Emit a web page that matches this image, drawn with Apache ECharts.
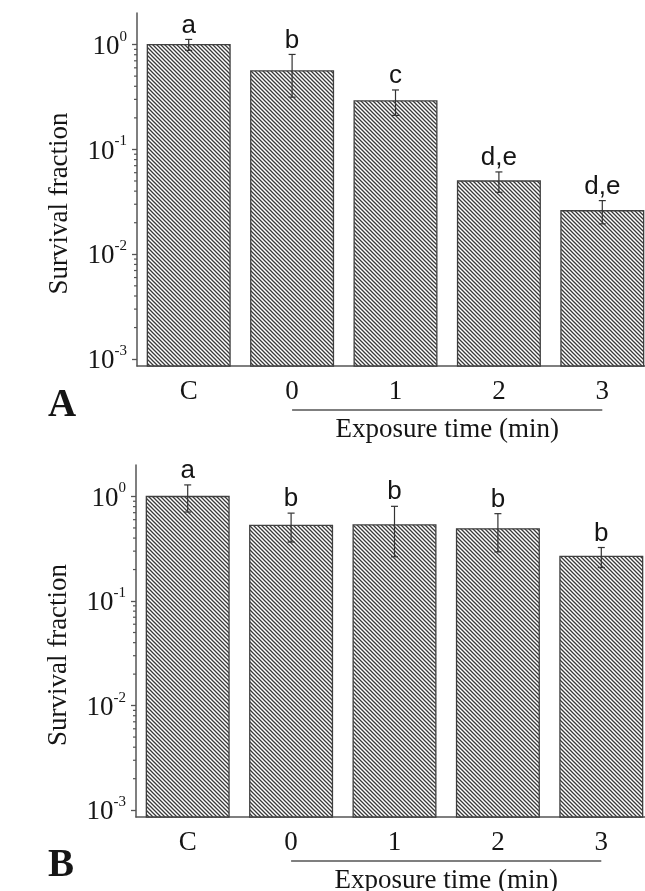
<!DOCTYPE html>
<html><head><meta charset="utf-8">
<script src="https://cdn.jsdelivr.net/npm/echarts@6/dist/echarts.min.js"></script>
<style>html,body{margin:0;padding:0;background:#fff;overflow:hidden;width:645px;height:891px}#c{width:662px;height:891px}</style>
</head><body><div id="c"></div>
<script>
// ---- data ----
const categories = ['C', '0', '1', '2', '3'];
const meanA = [1.0, 0.56, 0.29, 0.050, 0.026];
const errA = [0.12, 0.245, 0.079, 0.011, 0.0065];
const letterA = ['a', 'b', 'c', 'd,e', 'd,e'];
const meanB = [1.0, 0.53, 0.535, 0.49, 0.267];
const errB = [0.29, 0.163, 0.27, 0.195, 0.058];
const letterB = ['a', 'b', 'b', 'b', 'b'];
const yMin = 0.00086, yMax = 2;
const minorTicks = [0.002,0.003,0.004,0.005,0.006,0.007,0.008,0.009,
                    0.02,0.03,0.04,0.05,0.06,0.07,0.08,0.09,
                    0.2,0.3,0.4,0.5,0.6,0.7,0.8,0.9];
const bracketRange = [1, 4]; // categories '0' .. '3'
const xTitle = 'Exposure time (min)';
const yTitle = 'Survival fraction';
const panelLabels = ['A', 'B'];

// ---- styling ----
const SERIF = '"Liberation Serif", "Times New Roman", serif';
const SANS = '"Liberation Sans", Arial, sans-serif';
const AX = '#555';
const TXT = '#151515';

function makeHatch() {
  const c = document.createElement('canvas');
  c.width = 4; c.height = 4;
  const g = c.getContext('2d');
  g.fillStyle = '#fff'; g.fillRect(0, 0, 4, 4);
  g.strokeStyle = '#3a3a3a'; g.lineWidth = 1.3;
  g.beginPath();
  g.moveTo(-1, -1); g.lineTo(5, 5);
  g.moveTo(-1, 3); g.lineTo(1, 5);
  g.moveTo(3, -1); g.lineTo(5, 1);
  g.stroke();
  return c;
}
const hatch = makeHatch();

function barRender(letters) {
  return function (params, api) {
    const i = api.value(0), v = api.value(1), e = api.value(2);
    const top = api.coord([i, v]);
    const base = api.coord([i, yMin]);
    const bw = api.size([1, 0])[0] * 0.8;
    const cx = top[0];
    const eTop = api.coord([i, v + e])[1];
    const eBot = api.coord([i, v - e])[1];
    const es = { stroke: '#333', lineWidth: 1.2 };
    return {
      type: 'group', children: [
        { type: 'rect', shape: { x: cx - bw / 2, y: top[1], width: bw, height: base[1] - top[1] },
          style: { fill: { image: hatch, repeat: 'repeat' }, stroke: '#404040', lineWidth: 1.3 } },
        { type: 'line', shape: { x1: cx, y1: eTop, x2: cx, y2: eBot }, style: es },
        { type: 'line', shape: { x1: cx - 3.5, y1: eTop, x2: cx + 3.5, y2: eTop }, style: es },
        { type: 'line', shape: { x1: cx - 3.5, y1: eBot, x2: cx + 3.5, y2: eBot }, style: es },
        { type: 'text', style: { text: letters[params.dataIndex], x: cx, y: eTop - 1,
          textAlign: 'center', textVerticalAlign: 'bottom', font: '26px ' + SANS, fill: TXT } }
      ]
    };
  };
}

function minorRender(params, api) {
  const y = api.coord([0, api.value(1)])[1];
  const x = params.coordSys.x;
  return { type: 'line', shape: { x1: x - 3, y1: y, x2: x, y2: y }, style: { stroke: AX, lineWidth: 1.2 } };
}

function bracketRender(params, api) {
  const a = api.coord([api.value(0), yMin]);
  const b = api.coord([api.value(1), yMin]);
  const y = params.coordSys.y + params.coordSys.height + 44;
  return {
    type: 'group', children: [
      { type: 'line', shape: { x1: a[0], y1: y, x2: b[0], y2: y }, style: { stroke: '#555', lineWidth: 1.5 } },
      { type: 'text', style: { text: xTitle, x: (a[0] + b[0]) / 2, y: y + 6, textAlign: 'center',
        textVerticalAlign: 'top', font: '27px ' + SERIF, fill: TXT } }
    ]
  };
}

function xAxisFor(idx) {
  return {
    type: 'category', gridIndex: idx, data: categories,
    axisLine: { lineStyle: { color: AX, width: 1.5 } },
    axisTick: { alignWithLabel: true, length: 6, lineStyle: { color: AX, width: 1.5 } },
    axisLabel: { fontFamily: SERIF, fontSize: 27, color: TXT, margin: 12 }
  };
}
function yAxisFor(idx) {
  return {
    type: 'log', gridIndex: idx, min: yMin, max: yMax, logBase: 10,
    axisLine: { show: true, lineStyle: { color: AX, width: 1.5 } },
    axisTick: { show: true, length: 5, lineStyle: { color: AX, width: 1.3 } },
    splitLine: { show: false },
    axisLabel: {
      showMinLabel: false, showMaxLabel: false, margin: 10,
      formatter: function (v) { return '{b|10}{s|' + Math.round(Math.log10(v)) + '}'; },
      rich: {
        b: { fontFamily: SERIF, fontSize: 27, color: TXT, padding: [4, 0, 0, 0] },
        s: { fontFamily: SERIF, fontSize: 15, color: TXT, verticalAlign: 'top' }
      }
    },
    name: yTitle, nameLocation: 'middle', nameGap: 64,
    nameTextStyle: { fontFamily: SERIF, fontSize: 27, color: TXT, padding: [0, 28, 0, 0] }
  };
}

const chart = echarts.init(document.getElementById('c'), null, { renderer: 'canvas' });
chart.setOption({
  animation: false,
  backgroundColor: '#fff',
  grid: [
    { left: 137, top: 13, width: 517, height: 353 },
    { left: 136, top: 465, width: 517, height: 352 }
  ],
  xAxis: [xAxisFor(0), xAxisFor(1)],
  yAxis: [yAxisFor(0), yAxisFor(1)],
  graphic: [
    { type: 'text', left: 48, top: 386, style: { text: panelLabels[0], font: 'bold 39px ' + SERIF, fill: TXT } },
    { type: 'text', left: 48, top: 846, style: { text: panelLabels[1], font: 'bold 39px ' + SERIF, fill: TXT } }
  ],
  series: [
    { type: 'custom', xAxisIndex: 0, yAxisIndex: 0, silent: true, renderItem: barRender(letterA),
      data: categories.map((c, i) => [i, meanA[i], errA[i]]) },
    { type: 'custom', xAxisIndex: 1, yAxisIndex: 1, silent: true, renderItem: barRender(letterB),
      data: categories.map((c, i) => [i, meanB[i], errB[i]]) },
    { type: 'custom', xAxisIndex: 0, yAxisIndex: 0, silent: true, renderItem: minorRender,
      data: minorTicks.map(v => [0, v]) },
    { type: 'custom', xAxisIndex: 1, yAxisIndex: 1, silent: true, renderItem: minorRender,
      data: minorTicks.map(v => [0, v]) },
    { type: 'custom', xAxisIndex: 0, yAxisIndex: 0, silent: true, renderItem: bracketRender,
      data: [bracketRange] },
    { type: 'custom', xAxisIndex: 1, yAxisIndex: 1, silent: true, renderItem: bracketRender,
      data: [bracketRange] }
  ]
});
</script></body></html>
